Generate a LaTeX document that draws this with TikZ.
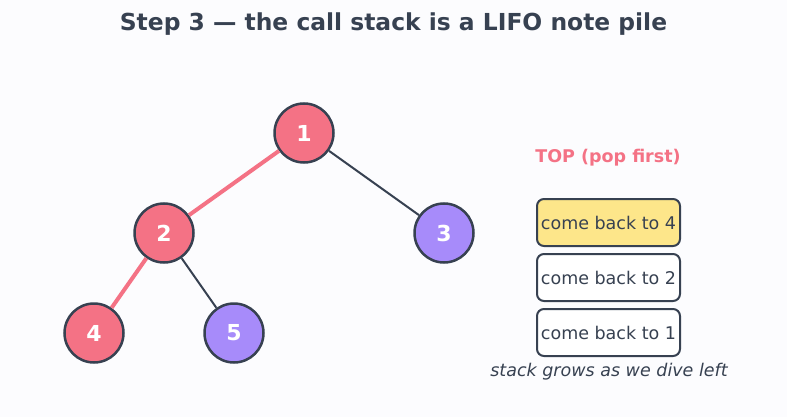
\documentclass[tikz,border=0pt]{standalone}
\usepackage{fontspec}
\setmainfont{DejaVu Sans}
\begin{document}
\begin{tikzpicture}[x=1pt,y=-1pt,
  tnode/.style={circle,draw=dark,line width=2.5pt,minimum size=59pt,inner sep=0pt,text=white,font=\fontsize{22}{24}\selectfont\bfseries},
  hot/.style={tnode,fill=hotc},
  cold/.style={tnode,fill=coldc},
  hotedge/.style={draw=hotc,line width=4pt},
  coldedge/.style={draw=dark,line width=2pt},
  stackbox/.style={draw=dark,line width=2pt,rounded corners=7pt,minimum width=143pt,minimum height=47pt,inner sep=0pt,text=dark,font=\fontsize{17.5}{20}\selectfont,fill=white}
]
\definecolor{bg}{HTML}{FCFCFE}
\definecolor{dark}{HTML}{374151}
\definecolor{hotc}{HTML}{F47285}
\definecolor{coldc}{HTML}{A78BFA}
\definecolor{note}{HTML}{FDE68A}
\fill[bg] (0,0) rectangle (787,417);
\useasboundingbox (0,0) rectangle (787,417);
\node[font=\fontsize{23.4}{26}\selectfont\bfseries,text=dark] (title) at (393.5,24) {Step 3 — the call stack is a LIFO note pile};
\node[hot] (n1) at (304,133) {1};
\node[hot] (n2) at (164,233) {2};
\node[cold] (n3) at (444,233) {3};
\node[hot] (n4) at (94,333) {4};
\node[cold] (n5) at (234,333) {5};
\path[hotedge] (n1) -- (n2);
\path[hotedge] (n2) -- (n4);
\path[coldedge] (n1) -- (n3);
\path[coldedge] (n2) -- (n5);
\node[text=hotc,font=\fontsize{17.5}{20}\selectfont\bfseries] (top) at (608,158) {TOP (pop first)};
\node[stackbox,fill=note] (s4) at (608.5,222.5) {come back to 4};
\node[stackbox] (s2) at (608.5,277.5) {come back to 2};
\node[stackbox] (s1) at (608.5,332.5) {come back to 1};
\node[text=dark,font=\fontsize{17.5}{20}\selectfont\itshape] (cap) at (609,372) {stack grows as we dive left};
\end{tikzpicture}
\end{document}
